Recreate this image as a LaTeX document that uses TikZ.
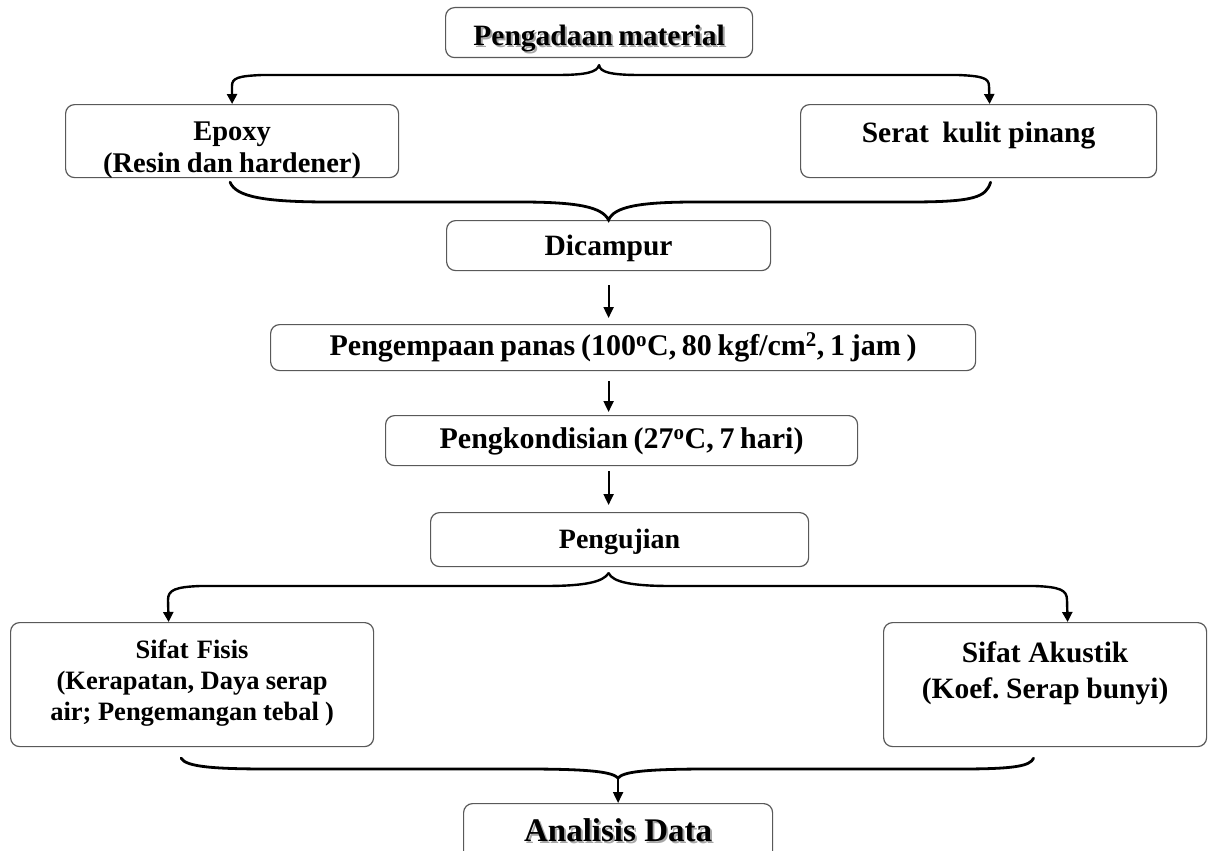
\documentclass[tikz,border=0pt]{standalone}
\usepackage{fontspec}
\setmainfont{Liberation Serif}
\usepackage{tikz}
\usetikzlibrary{arrows.meta, calc}

% text with a soft drop shadow
\newcommand{\shadowed}[1]{\makebox[0pt][l]{\hspace{2pt}\raisebox{-2pt}{\color{black!35}#1}}#1}
% narrow word spaces
\newcommand{\tightspace}{\spaceskip=0.19em plus 0.05em minus 0.03em\relax}

\begin{document}
\begin{tikzpicture}[x=1pt, y=-1pt,
    box/.style={draw=black!65, line width=1.2pt, rounded corners=9pt, inner sep=0pt, anchor=north west, align=center},
    brace/.style={line width=2.8pt, line cap=round},
    arrow/.style={line width=2.2pt, -{Triangle[length=11pt, width=10pt]}},
    tip/.style={line width=2.4pt, -{Triangle[length=10pt, width=10pt]}}]
  \useasboundingbox (0,0) rectangle (1208,851);
  \clip (0,0) rectangle (1208,851);

  \node (pm) [box, minimum width=307pt, text height=38pt, text depth=12pt, font=\bfseries\fontsize{29.5}{34}\selectfont\tightspace] at (445,7)
    {\shadowed{Pengadaan material}};

  \node (epoxy) [box, text width=333pt, text height=36pt, text depth=37pt, font=\bfseries\fontsize{28.5}{32}\selectfont] at (65,104)
    {\tightspace Epoxy\\(Resin dan hardener)};

  \node (serat) [box, text width=356pt, text height=38pt, text depth=35pt, font=\bfseries\fontsize{29.5}{33}\selectfont] at (800,104)
    {\tightspace Serat\hspace{0.45em}kulit pinang};

  \node (dicampur) [box, minimum width=324pt, text height=35pt, text depth=15pt, font=\bfseries\fontsize{29.5}{34}\selectfont] at (446,220)
    {Dicampur};

  \node (press) [box, minimum width=705pt, text height=31pt, text depth=15pt, font=\bfseries\fontsize{30}{34}\selectfont\tightspace] at (270,324)
    {Pengempaan panas (100\textsuperscript{o}C, 80 kgf/cm\textsuperscript{2}, 1 jam )};

  \node (kondisi) [box, minimum width=472pt, text height=33pt, text depth=17pt, font=\bfseries\fontsize{30}{34}\selectfont\tightspace] at (385,415)
    {Pengkondisian (27\textsuperscript{o}C, 7 hari)};

  \node (uji) [box, minimum width=378pt, text height=36pt, text depth=18pt, font=\bfseries\fontsize{28}{34}\selectfont] at (430,512)
    {Pengujian};

  \node (fisis) [box, text width=363pt, text height=36pt, text depth=88pt, font=\bfseries\fontsize{26.5}{31}\selectfont] at (10,622)
    {\tightspace Sifat Fisis\\(Kerapatan, Daya serap\\air; Pengemangan tebal )};

  \node (akustik) [box, text width=323pt, text height=40pt, text depth=84pt, font=\bfseries\fontsize{29.5}{36}\selectfont] at (883,622)
    {\tightspace Sifat Akustik\\(Koef.\ Serap bunyi)};

  \node (analisis) [box, minimum width=309pt, text height=38pt, text depth=26pt, font=\bfseries\fontsize{33}{38}\selectfont] at (463,803)
    {\shadowed{Analisis Data}};

  % brace under Pengadaan material
  \coordinate (tp) at ($(pm.south)+(0,7)$);
  \draw [brace, tip] (tp) .. controls (597,72) and (587,75) .. (557,75) -- (262,75)
    .. controls (238,76) and (232,78) .. (232,86) -- (epoxy.north);
  \draw [brace, tip] (tp) .. controls (600,72) and (610,75) .. (640,75) -- (958,75)
    .. controls (982,76) and (989,78) .. (989,86) -- ($(serat.north)+(11,0)$);

  % brace into Dicampur
  \draw [brace] ($(epoxy.south)+(-2,4)$) .. controls (236,197) and (265,202) .. (330,202) -- (520,202)
    .. controls (578,202) and (602,207) .. (dicampur.north)
    .. controls (614,207) and (638,202) .. (696,202) -- (910,202)
    .. controls (975,202) and (986,197) .. ($(serat.south)+(12,4)$);

  \draw [arrow, shorten <=14pt, shorten >=6pt] (dicampur.south) -- (dicampur.south |- press.north);
  \draw [arrow, shorten <=10pt, shorten >=3pt] (dicampur.south |- press.south) -- (dicampur.south |- kondisi.north);
  \draw [arrow, shorten <=5pt, shorten >=7pt] (dicampur.south |- kondisi.south) -- (dicampur.south |- uji.north);

  % brace under Pengujian
  \coordinate (up) at ($(dicampur.south |- uji.south)+(0,6)$);
  \draw [brace, tip] (up) .. controls (603,582) and (585,586) .. (545,586) -- (200,586)
    .. controls (175,587) and (168,590) .. (168,600) -- ($(fisis.north)+(-23.5,0)$);
  \draw [brace, tip] (up) .. controls (613,582) and (631,586) .. (671,586) -- (1035,586)
    .. controls (1060,587) and (1067,590) .. (1067,600) -- ($(akustik.north)+(22.5,0)$);

  % brace into Analisis Data
  \coordinate (bp) at ($(analisis.north)+(0,-25)$);
  \draw [brace] ($(fisis.south)+(-11,11)$) .. controls (186,767) and (215,769) .. (270,769) -- (525,769)
    .. controls (592,769) and (612,772) .. (bp)
    .. controls (623,772) and (643,769) .. (710,769) -- (960,769)
    .. controls (1015,769) and (1030,766) .. ($(akustik.south)+(-11.5,11)$);
  \draw [arrow] (bp) -- (analisis.north);
\end{tikzpicture}
\end{document}
